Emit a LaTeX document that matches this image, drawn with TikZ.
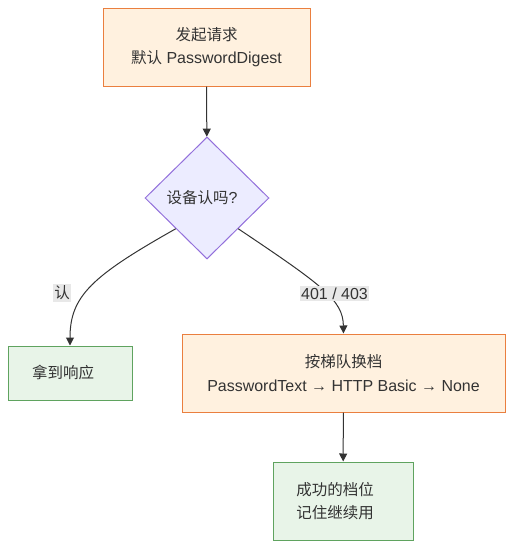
\documentclass[tikz,border=0pt]{standalone}
\usepackage{fontspec}
\setmainfont{Liberation Sans}[Scale=1.03]
\newfontfamily\cjk{Noto Sans CJK SC}[Scale=1.0]
\usetikzlibrary{shapes.geometric,arrows.meta}
\definecolor{orfill}{HTML}{FFF1DF}
\definecolor{ordraw}{HTML}{EA7F3F}
\definecolor{pufill}{HTML}{ECECFF}
\definecolor{pudraw}{HTML}{9370DB}
\definecolor{grfill}{HTML}{E8F4E8}
\definecolor{grdraw}{HTML}{5FA35F}
\definecolor{edgec}{HTML}{333333}
\definecolor{lblbg}{HTML}{E8E8E8}
\tikzset{
  x=1pt, y=-1pt,
  every node/.style={font=\fontsize{15.5}{23.5}\selectfont, text=edgec},
  orbox/.style={draw=ordraw, fill=orfill, line width=1pt, rectangle, align=center, inner sep=0pt},
  grbox/.style={draw=grdraw, fill=grfill, line width=1pt, rectangle, align=center, inner sep=0pt},
  decision/.style={draw=pudraw, fill=pufill, line width=1pt, diamond, inner sep=0pt, minimum width=124pt, minimum height=122pt},
  arr/.style={draw=edgec, line width=1pt, -{Triangle[length=8pt,width=8pt]}},
  elabel/.style={fill=lblbg, inner sep=1.5pt, font=\fontsize{15.5}{18}\selectfont}
}
\begin{document}
\begin{tikzpicture}
\useasboundingbox (0,0) rectangle (513,549);
\node[orbox, minimum width=207pt, minimum height=78pt] (start) at (206.5,47) {{\cjk 发起请求}\\{\cjk 默认} PasswordDigest};
\node[decision] (dev) at (207,198) {\raisebox{3pt}{{\cjk 设备认吗}?\kern10pt}};
\node[grbox, minimum width=124pt, minimum height=54pt] (ok) at (70,373) {{\cjk 拿到响应}\kern14pt};
\node[orbox, minimum width=323pt, minimum height=78pt] (ladder) at (343.5,373) {{\cjk 按梯队换档}\\PasswordText → HTTP Basic → None};
\node[grbox, minimum width=140pt, minimum height=78pt] (remember) at (343,501) {{\cjk 成功的档位}\kern16pt\\{\cjk 记住继续用}\kern16pt};

\draw[arr] (start) -- (dev);
\draw[arr] (dev.south west) .. controls (92,276) and (70,296) .. (ok.north);
\draw[arr] (dev.south east) .. controls (322,285) and (343,300) .. (ladder.north);
\draw[arr] (ladder) -- (remember);

\node[elabel] (lyes) at (62,293) {\cjk 认};
\node[elabel] (lfail) at (334.5,293.5) {401 / 403};
\end{tikzpicture}
\end{document}
